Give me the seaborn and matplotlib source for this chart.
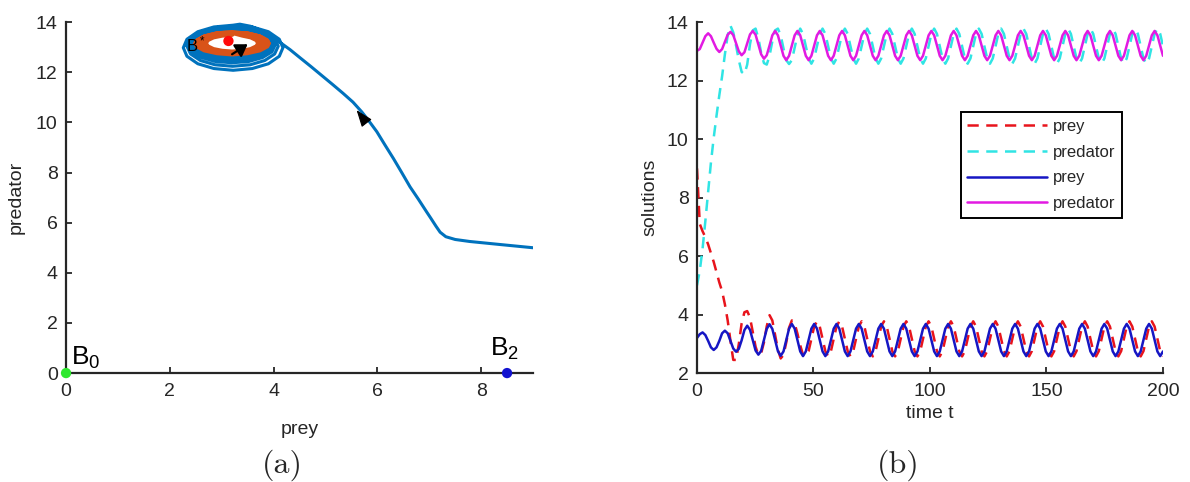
import numpy as np
import seaborn as sns
import matplotlib.pyplot as plt

# ---------------- panel (b): solutions, 168 samples on [0, 200] (8 per cycle)
t = np.linspace(0, 200, 168)

prey_dashed = [
    9.00, 7.10, 6.85, 6.65, 6.40, 6.10, 5.80, 5.45,
    5.10, 4.80, 4.35, 3.80, 3.10, 2.45, 2.45, 3.00,
    3.70, 4.08, 4.12, 3.90, 3.40, 2.90, 2.62, 2.68,
    3.05, 3.60, 3.98, 3.80, 3.30, 2.80, 2.50, 2.62,
    3.05, 3.55, 3.80, 3.70, 3.35, 2.95, 2.62, 2.57,
    2.75, 3.17, 3.59, 3.77, 3.59, 3.17, 2.75, 2.57,
    2.75, 3.17, 3.59, 3.77, 3.59, 3.17, 2.75, 2.57,
    2.75, 3.17, 3.59, 3.77, 3.59, 3.17, 2.75, 2.57,
    2.75, 3.17, 3.59, 3.77, 3.59, 3.17, 2.75, 2.57,
    2.75, 3.17, 3.59, 3.77, 3.59, 3.17, 2.75, 2.57,
    2.75, 3.17, 3.59, 3.77, 3.59, 3.17, 2.75, 2.57,
    2.75, 3.17, 3.59, 3.77, 3.59, 3.17, 2.75, 2.57,
    2.75, 3.17, 3.59, 3.77, 3.59, 3.17, 2.75, 2.57,
    2.75, 3.17, 3.59, 3.77, 3.59, 3.17, 2.75, 2.57,
    2.75, 3.17, 3.59, 3.77, 3.59, 3.17, 2.75, 2.57,
    2.75, 3.17, 3.59, 3.77, 3.59, 3.17, 2.75, 2.57,
    2.75, 3.17, 3.59, 3.77, 3.59, 3.17, 2.75, 2.57,
    2.75, 3.17, 3.59, 3.77, 3.59, 3.17, 2.75, 2.57,
    2.75, 3.17, 3.59, 3.77, 3.59, 3.17, 2.75, 2.57,
    2.75, 3.17, 3.59, 3.77, 3.59, 3.17, 2.75, 2.57,
    2.75, 3.17, 3.59, 3.77, 3.59, 3.17, 2.75, 2.57,
]

pred_dashed = [
    5.00, 5.50, 6.25, 7.20, 8.20, 9.20, 10.05, 10.80,
    11.50, 12.15, 12.90, 13.55, 13.88, 13.65, 13.20, 12.70,
    12.30, 12.22, 12.55, 13.25, 13.72, 13.78, 13.45, 12.95,
    12.60, 12.55, 12.85, 13.35, 13.72, 13.78, 13.55, 13.10,
    12.70, 12.57, 12.70, 13.12, 13.55, 13.78, 13.60, 13.18,
    12.76, 12.58, 12.76, 13.18, 13.60, 13.78, 13.60, 13.18,
    12.76, 12.58, 12.76, 13.18, 13.60, 13.78, 13.60, 13.18,
    12.76, 12.58, 12.76, 13.18, 13.60, 13.78, 13.60, 13.18,
    12.76, 12.58, 12.76, 13.18, 13.60, 13.78, 13.60, 13.18,
    12.76, 12.58, 12.76, 13.18, 13.60, 13.78, 13.60, 13.18,
    12.76, 12.58, 12.76, 13.18, 13.60, 13.78, 13.60, 13.18,
    12.76, 12.58, 12.76, 13.18, 13.60, 13.78, 13.60, 13.18,
    12.76, 12.58, 12.76, 13.18, 13.60, 13.78, 13.60, 13.18,
    12.76, 12.58, 12.76, 13.18, 13.60, 13.78, 13.60, 13.18,
    12.76, 12.58, 12.76, 13.18, 13.60, 13.78, 13.60, 13.18,
    12.76, 12.58, 12.76, 13.18, 13.60, 13.78, 13.60, 13.18,
    12.76, 12.58, 12.76, 13.18, 13.60, 13.78, 13.60, 13.18,
    12.76, 12.58, 12.76, 13.18, 13.60, 13.78, 13.60, 13.18,
    12.76, 12.58, 12.76, 13.18, 13.60, 13.78, 13.60, 13.18,
    12.76, 12.58, 12.76, 13.18, 13.60, 13.78, 13.60, 13.18,
    12.76, 12.58, 12.76, 13.18, 13.60, 13.78, 13.60, 13.18,
]

prey_solid = [
    3.20, 3.33, 3.39, 3.30, 3.10, 2.88, 2.79, 2.88,
    3.10, 3.36, 3.45, 3.36, 3.10, 2.84, 2.73, 2.83,
    3.12, 3.47, 3.62, 3.48, 3.12, 2.77, 2.63, 2.76,
    3.13, 3.51, 3.67, 3.51, 3.13, 2.75, 2.59, 2.74,
    3.13, 3.52, 3.68, 3.52, 3.13, 2.74, 2.58, 2.74,
    3.13, 3.52, 3.68, 3.52, 3.13, 2.74, 2.58, 2.74,
    3.13, 3.52, 3.68, 3.52, 3.13, 2.74, 2.58, 2.74,
    3.13, 3.52, 3.68, 3.52, 3.13, 2.74, 2.58, 2.74,
    3.13, 3.52, 3.68, 3.52, 3.13, 2.74, 2.58, 2.74,
    3.13, 3.52, 3.68, 3.52, 3.13, 2.74, 2.58, 2.74,
    3.13, 3.52, 3.68, 3.52, 3.13, 2.74, 2.58, 2.74,
    3.13, 3.52, 3.68, 3.52, 3.13, 2.74, 2.58, 2.74,
    3.13, 3.52, 3.68, 3.52, 3.13, 2.74, 2.58, 2.74,
    3.13, 3.52, 3.68, 3.52, 3.13, 2.74, 2.58, 2.74,
    3.13, 3.52, 3.68, 3.52, 3.13, 2.74, 2.58, 2.74,
    3.13, 3.52, 3.68, 3.52, 3.13, 2.74, 2.58, 2.74,
    3.13, 3.52, 3.68, 3.52, 3.13, 2.74, 2.58, 2.74,
    3.13, 3.52, 3.68, 3.52, 3.13, 2.74, 2.58, 2.74,
    3.13, 3.52, 3.68, 3.52, 3.13, 2.74, 2.58, 2.74,
    3.13, 3.52, 3.68, 3.52, 3.13, 2.74, 2.58, 2.74,
    3.13, 3.52, 3.68, 3.52, 3.13, 2.74, 2.58, 2.74,
]

pred_solid = [
    13.02, 13.08, 13.30, 13.52, 13.62, 13.52, 13.30, 13.09,
    12.98, 13.08, 13.33, 13.57, 13.67, 13.56, 13.28, 13.00,
    12.87, 12.97, 13.28, 13.58, 13.70, 13.57, 13.23, 12.90,
    12.75, 12.87, 13.20, 13.55, 13.70, 13.55, 13.20, 12.85,
    12.70, 12.85, 13.20, 13.55, 13.70, 13.55, 13.20, 12.85,
    12.70, 12.85, 13.20, 13.55, 13.70, 13.55, 13.20, 12.85,
    12.70, 12.85, 13.20, 13.55, 13.70, 13.55, 13.20, 12.85,
    12.70, 12.85, 13.20, 13.55, 13.70, 13.55, 13.20, 12.85,
    12.70, 12.85, 13.20, 13.55, 13.70, 13.55, 13.20, 12.85,
    12.70, 12.85, 13.20, 13.55, 13.70, 13.55, 13.20, 12.85,
    12.70, 12.85, 13.20, 13.55, 13.70, 13.55, 13.20, 12.85,
    12.70, 12.85, 13.20, 13.55, 13.70, 13.55, 13.20, 12.85,
    12.70, 12.85, 13.20, 13.55, 13.70, 13.55, 13.20, 12.85,
    12.70, 12.85, 13.20, 13.55, 13.70, 13.55, 13.20, 12.85,
    12.70, 12.85, 13.20, 13.55, 13.70, 13.55, 13.20, 12.85,
    12.70, 12.85, 13.20, 13.55, 13.70, 13.55, 13.20, 12.85,
    12.70, 12.85, 13.20, 13.55, 13.70, 13.55, 13.20, 12.85,
    12.70, 12.85, 13.20, 13.55, 13.70, 13.55, 13.20, 12.85,
    12.70, 12.85, 13.20, 13.55, 13.70, 13.55, 13.20, 12.85,
    12.70, 12.85, 13.20, 13.55, 13.70, 13.55, 13.20, 12.85,
    12.70, 12.85, 13.20, 13.55, 13.70, 13.55, 13.20, 12.85,
]

# ---------------- panel (a): phase plane
# trajectory from (9, 5), then five turns winding onto the limit cycle
traj_prey = [
    9.00, 8.36, 7.78, 7.50, 7.32, 7.21, 7.13, 7.03, 6.95, 6.79, 6.63, 6.47,
    6.31, 6.15, 5.99, 5.84, 5.70, 5.53, 5.34, 5.14, 4.93, 4.72, 4.51, 4.32,
    4.12, 3.93, 3.74, 3.55, 3.35,
    3.22, 2.85, 2.54, 2.33, 2.26, 2.33, 2.54, 2.85, 3.22, 3.59, 3.90, 4.11, 4.18, 4.11, 3.90, 3.59,
    3.21, 2.87, 2.59, 2.40, 2.33, 2.40, 2.59, 2.87, 3.21, 3.55, 3.83, 4.02, 4.09, 4.02, 3.83, 3.55,
    3.20, 2.88, 2.61, 2.43, 2.37, 2.43, 2.61, 2.88, 3.20, 3.52, 3.79, 3.97, 4.03, 3.97, 3.79, 3.52,
    3.20, 2.89, 2.63, 2.46, 2.40, 2.46, 2.63, 2.89, 3.20, 3.51, 3.77, 3.94, 4.00, 3.94, 3.77, 3.51,
    3.20, 2.90, 2.64, 2.47, 2.41, 2.47, 2.64, 2.90, 3.20, 3.50, 3.76, 3.93, 3.99, 3.93, 3.76, 3.50,
    3.20,
]
traj_pred = [
    5.00, 5.13, 5.25, 5.33, 5.44, 5.62, 5.86, 6.18, 6.43, 6.94, 7.43, 8.00,
    8.56, 9.09, 9.63, 10.05, 10.42, 10.81, 11.16, 11.51, 11.87, 12.23, 12.58, 12.90,
    13.20, 13.46, 13.68, 13.84, 13.92,
    13.88, 13.81, 13.62, 13.32, 12.98, 12.64, 12.34, 12.15, 12.08, 12.15, 12.34, 12.64, 12.98, 13.32, 13.62, 13.81,
    13.84, 13.78, 13.61, 13.35, 13.04, 12.73, 12.47, 12.30, 12.24, 12.30, 12.47, 12.73, 13.04, 13.35, 13.61, 13.78,
    13.80, 13.75, 13.59, 13.36, 13.09, 12.82, 12.59, 12.43, 12.38, 12.43, 12.59, 12.82, 13.09, 13.36, 13.59, 13.75,
    13.77, 13.72, 13.58, 13.38, 13.13, 12.89, 12.68, 12.54, 12.49, 12.54, 12.68, 12.89, 13.13, 13.38, 13.58, 13.72,
    13.75, 13.71, 13.58, 13.39, 13.16, 12.93, 12.74, 12.62, 12.57, 12.62, 12.74, 12.93, 13.16, 13.39, 13.58, 13.71,
    13.75,
]

# trajectory leaving the unstable equilibrium B* and spiralling out to the cycle
spiral_prey = [
    3.20, 3.01, 2.84, 2.73, 2.69, 2.73, 2.84, 3.01, 3.20, 3.40, 3.56, 3.67, 3.71, 3.67, 3.56, 3.40,
    3.20, 2.97, 2.78, 2.65, 2.60, 2.65, 2.78, 2.97, 3.20, 3.43, 3.62, 3.75, 3.80, 3.75, 3.62, 3.43,
    3.20, 2.94, 2.72, 2.57, 2.52, 2.57, 2.72, 2.94, 3.20, 3.46, 3.68, 3.83, 3.88, 3.83, 3.68, 3.46,
    3.20, 2.92, 2.68, 2.52, 2.46, 2.52, 2.68, 2.92, 3.20, 3.48, 3.72, 3.88, 3.94, 3.88, 3.72, 3.48,
    3.20, 2.91, 2.66, 2.49, 2.43, 2.49, 2.66, 2.91, 3.20, 3.50, 3.74, 3.91, 3.97, 3.91, 3.74, 3.50,
    3.20,
]
spiral_pred = [
    13.50, 13.47, 13.40, 13.29, 13.16, 13.03, 12.92, 12.85, 12.82, 12.85, 12.92, 13.03, 13.16, 13.29, 13.40, 13.47,
    13.58, 13.55, 13.46, 13.32, 13.16, 13.00, 12.86, 12.77, 12.74, 12.77, 12.86, 13.00, 13.16, 13.32, 13.46, 13.55,
    13.64, 13.60, 13.50, 13.34, 13.16, 12.98, 12.82, 12.72, 12.68, 12.72, 12.82, 12.98, 13.16, 13.34, 13.50, 13.60,
    13.69, 13.65, 13.54, 13.36, 13.16, 12.96, 12.78, 12.67, 12.63, 12.67, 12.78, 12.96, 13.16, 13.36, 13.54, 13.65,
    13.73, 13.69, 13.56, 13.38, 13.16, 12.94, 12.76, 12.63, 12.59, 12.63, 12.76, 12.94, 13.16, 13.38, 13.56, 13.69,
    13.73,
]

# equilibria B0, B2, B*
eq_prey = [0.0, 8.5, 3.13]
eq_pred = [0.0, 0.0, 13.25]
eq_colors = ["#2ee82e", "#1212d0", "#ff0a0a"]

ink = "#262626"
sns.set_style("ticks")
plt.rcParams["font.family"] = ["Liberation Sans", "DejaVu Sans"]
plt.rcParams["mathtext.fontset"] = "custom"
plt.rcParams["mathtext.rm"] = "Liberation Sans"
plt.rcParams["mathtext.it"] = "Liberation Sans:italic"
plt.rcParams["xtick.direction"] = "in"
plt.rcParams["ytick.direction"] = "in"

fig = plt.figure(figsize=(11.9, 4.82), dpi=100)
ax1 = fig.add_axes([0.0555, 0.226, 0.3924, 0.728])
ax2 = fig.add_axes([0.5857, 0.226, 0.3916, 0.728])

# ---- (a)
sns.lineplot(x=spiral_prey, y=spiral_pred, ax=ax1, sort=False, estimator=None,
             color="#d95319", lw=3.2)
sns.lineplot(x=traj_prey, y=traj_pred, ax=ax1, sort=False, estimator=None,
             color="#0072bd", lw=2.2)
for px, py, c in zip(eq_prey, eq_pred, eq_colors):
    sns.scatterplot(x=[px], y=[py], ax=ax1, color=c, s=55, edgecolor="none",
                    clip_on=False, zorder=6)

ax1.annotate("", xy=(5.60, 10.49), xytext=(5.78, 10.01),
             arrowprops=dict(arrowstyle="-|>,head_length=0.8,head_width=0.3",
                             color="k", lw=0.8, mutation_scale=13,
                             shrinkA=0, shrinkB=0), zorder=7)
ax1.annotate("", xy=(3.50, 13.12), xytext=(3.20, 12.72),
             arrowprops=dict(arrowstyle="-|>,head_length=0.7,head_width=0.45",
                             color="k", lw=1.6, mutation_scale=10,
                             shrinkA=0, shrinkB=0), zorder=7)
ax1.text(0.1, 0.32, "B$_0$", fontsize=19, color="k")
ax1.text(8.17, 0.67, "B$_2$", fontsize=19, color="k")
ax1.text(2.31, 12.85, "B$^*$", fontsize=12, color="k", zorder=8)

ax1.set_xlim(0, 9)
ax1.set_ylim(0, 14)
ax1.set_xticks([0, 2, 4, 6, 8])
ax1.set_yticks(range(0, 15, 2))
ax1.set_xlabel("prey", fontsize=14, color=ink, labelpad=15)
ax1.set_ylabel("predator", fontsize=14, color=ink, labelpad=8)

# ---- (b)
sns.lineplot(x=t, y=prey_dashed, ax=ax2, color="#e8141c", lw=1.8,
             linestyle=(0, (4.5, 3)), label="prey")
sns.lineplot(x=t, y=pred_dashed, ax=ax2, color="#30e4e4", lw=1.8,
             linestyle=(0, (4.5, 3)), label="predator")
sns.lineplot(x=t, y=prey_solid, ax=ax2, color="#1616c4", lw=1.8, label="prey")
sns.lineplot(x=t, y=pred_solid, ax=ax2, color="#e21ae2", lw=1.8, label="predator")

ax2.set_xlim(0, 200)
ax2.set_ylim(2, 14)
ax2.set_xticks([0, 50, 100, 150, 200])
ax2.set_yticks(range(2, 15, 2))
ax2.set_xlabel("time t", fontsize=14, color=ink, labelpad=4)
ax2.set_ylabel("solutions", fontsize=14, color=ink, labelpad=6)

leg = ax2.legend(loc="upper left", bbox_to_anchor=(0.566, 0.744), fontsize=12,
                 frameon=True, fancybox=False, framealpha=1, edgecolor="k",
                 handlelength=4.8, handletextpad=0.35, labelspacing=0.65,
                 borderpad=0.4, borderaxespad=0)
leg.get_frame().set_linewidth(1.4)

for ax in (ax1, ax2):
    sns.despine(ax=ax)
    for side in ("left", "bottom"):
        ax.spines[side].set_linewidth(1.6)
        ax.spines[side].set_color(ink)
    ax.tick_params(labelsize=14, colors=ink, length=4, width=1.3)
    ax.tick_params(axis="x", pad=7)
    ax.tick_params(axis="y", pad=6)

fig.text(0.237, 0.035, "(a)", fontfamily="cmr10", fontsize=23, ha="center", va="center")
fig.text(0.755, 0.035, "(b)", fontfamily="cmr10", fontsize=23, ha="center", va="center")

fig.savefig("out.png", dpi=100)
